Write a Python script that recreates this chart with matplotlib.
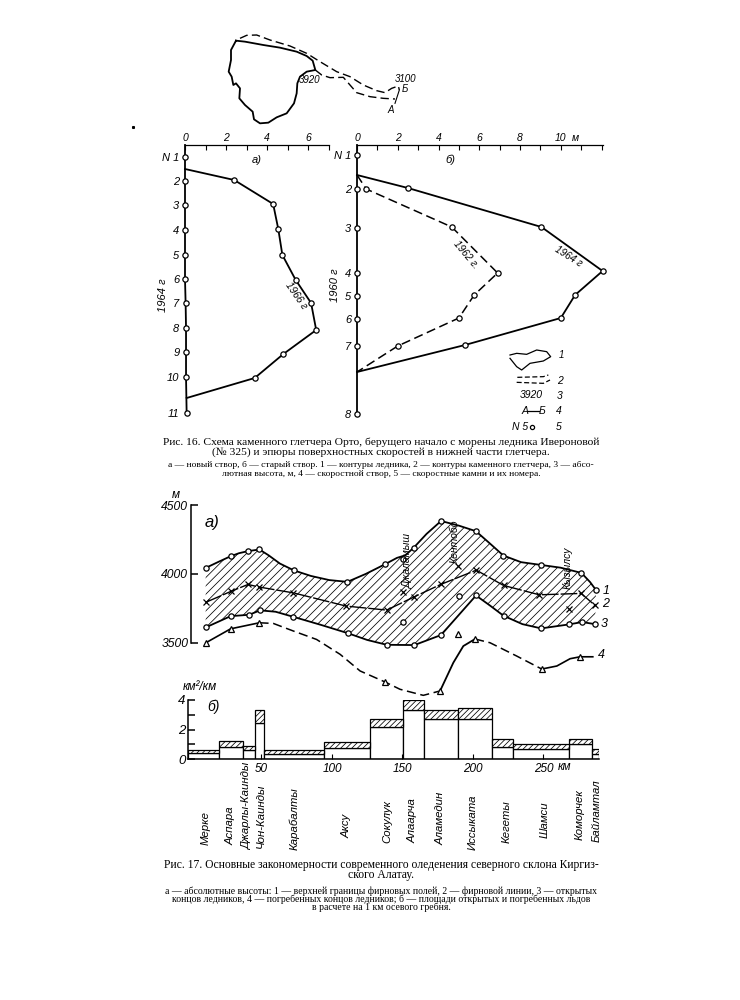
import matplotlib
matplotlib.use("Agg")
import matplotlib.pyplot as plt

plt.rcParams["font.family"] = ["Liberation Sans", "DejaVu Sans"]
plt.rcParams["hatch.linewidth"] = 0.55

# map of the glacier
glacier_x = [318, 345, 400, 450, 500, 530, 548, 556, 530, 510, 502, 500, 492, 470, 440, 415, 390, 372, 368, 345, 328, 330, 318, 310, 305, 296, 303, 303, 318]
glacier_y = [62, 65, 75, 83, 95, 108, 122, 150, 155, 170, 190, 220, 250, 280, 292, 308, 310, 298, 275, 255, 235, 205, 190, 195, 170, 155, 120, 90, 62]
rock_top_x = [330, 350, 380, 420, 480, 530, 570, 620, 660, 700, 740, 765, 785, 805, 808]
rock_top_y = [55, 46, 45, 60, 78, 100, 125, 155, 170, 195, 212, 218, 205, 198, 210]
rock_low_x = [556, 575, 600, 640, 660, 680, 720, 760, 795]
rock_low_y = [150, 165, 173, 172, 195, 218, 230, 235, 237]
profile_x = [808, 795]
profile_y = [210, 250]

# velocity profile a)
stones_a = ["N 1", "2", "3", "4", "5", "6", "7", "8", "9", "10", "11"]
stone_a_x = [0, 0, 0, 0, 0, 0, 0.03, 0.05, 0.05, 0.05, 0.08]
stone_a_y = [12, 36, 60, 85, 110, 134, 158, 183, 207, 232, 268]
v1966_x = [0, 2.4, 4.3, 4.55, 4.75, 5.4, 6.15, 6.4, 4.8, 3.4, 0.08]
v1966_y = [24, 35, 59, 84, 110, 135, 158, 185, 209, 233, 253]

# velocity profile b)
stones_b = ["N 1", "2", "3", "4", "5", "6", "7", "8"]
stone_b_y = [10, 44, 83, 128, 151, 174, 201, 269]
v1964_x = [0, 2.5, 9.05, 12.05, 10.7, 10.0, 5.3, 0]
v1964_y = [30, 43, 82, 126, 150, 173, 200, 227]
v1962_x = [0, 0.45, 4.65, 6.9, 5.75, 5.0, 2.0, 0]
v1962_y = [30, 44, 82, 128, 150, 173, 201, 227]

# altitudes along the ridge, km and m
top_km = [10.4, 19, 28.1, 34, 40.4, 48.5, 55, 63, 73, 85, 98, 110.9, 124, 137.6, 146, 152, 158, 167, 177.3, 190, 202, 212, 221.5, 234, 248, 262, 276.8, 283, 287.2]
top_alt = [4043, 4085, 4128, 4150, 4165, 4177, 4135, 4075, 4025, 3985, 3955, 3942, 4000, 4070, 4116, 4135, 4191, 4290, 4384, 4350, 4310, 4220, 4133, 4085, 4065, 4045, 4007, 3940, 3882]
top_mark_km = [10.4, 28.1, 40.4, 48.5, 73, 110.9, 137.6, 150, 158, 177.3, 202, 221.5, 248, 276.8, 287.2]
top_mark_alt = [4043, 4128, 4165, 4177, 4025, 3942, 4070, 4105, 4191, 4384, 4310, 4133, 4065, 4007, 3882]

firn_km = [10.4, 28.1, 40.4, 48.5, 72.6, 110, 138.8, 158.2, 177, 202.3, 221.6, 247, 276.6, 286.5]
firn_alt = [3793, 3872, 3923, 3904, 3862, 3766, 3737, 3833, 3923, 4027, 3916, 3848, 3858, 3771]
firn_off_km = [150.6, 189.6, 268.3]
firn_off_alt = [3867, 4056, 3742]

low_km = [10.4, 28.1, 41.3, 48.9, 60, 72.6, 92, 111, 125, 138.8, 158.4, 177.3, 202.1, 212, 221.6, 235, 248.3, 268, 277.3, 286.5]
low_alt = [3611, 3693, 3703, 3735, 3725, 3688, 3630, 3570, 3520, 3485, 3483, 3556, 3843, 3770, 3696, 3635, 3604, 3633, 3650, 3635]
low_mark_km = [10.4, 28.1, 41.3, 48.9, 72.6, 111, 138.8, 158.4, 177.3, 202.1, 221.6, 248.3, 268, 277.3, 286.5]
low_mark_alt = [3611, 3693, 3703, 3735, 3688, 3570, 3485, 3483, 3556, 3843, 3696, 3604, 3633, 3650, 3635]
low_off_km = [150.1, 190.3]
low_off_alt = [3650, 3836]

buried1_km = [10.6, 28.1, 48.5]
buried1_alt = [3500, 3601, 3645]
buried2_km = [48.5, 58.4, 72.6, 89, 105.7, 119.9, 137.6, 148.2, 164.7, 176.6]
buried2_alt = [3645, 3640, 3585, 3524, 3416, 3295, 3215, 3162, 3118, 3150]
buried3_km = [176.6, 186, 193.1, 201.4]
buried3_alt = [3150, 3355, 3476, 3527]
buried4_km = [201.4, 212, 231, 248.7]
buried4_alt = [3527, 3500, 3403, 3309]
buried5_km = [248.7, 259.4, 268.8, 275.9, 284.9]
buried5_alt = [3309, 3331, 3384, 3398, 3398]
buried_mark_km = [10.6, 28.1, 48.5, 137.6, 176.6, 189.1, 201.4, 248.7, 275.9]
buried_mark_alt = [3500, 3601, 3645, 3215, 3150, 3563, 3527, 3309, 3398]

# ice area per km of ridge
bar_edges = [-2, 19.6, 37.1, 45.4, 51.8, 94.6, 127, 150.1, 165.5, 189.6, 213.2, 228.1, 268.3, 284.4, 289.1]
bar_open = [0.39, 0.84, 0.6, 2.43, 0.32, 0.73, 2.14, 3.3, 2.7, 2.7, 0.8, 0.66, 1.02, 0.32]
bar_total = [0.6, 1.23, 0.88, 3.3, 0.6, 1.18, 2.7, 3.98, 3.3, 3.45, 1.36, 1.02, 1.36, 0.66]
km_ticks = [50, 100, 150, 200, 250]
km_labels = ["50", "100", "150", "200", "250"]
basins = ["Мерке", "Аспара", "Джарлы-Каинды", "Чон-Каинды", "Карабалты", "Аксу", "Сокулук", "Алаарча", "Аламедин", "Иссыката", "Кегеты", "Шамси", "Коморчек", "Байламтал"]

fig = plt.figure(figsize=(7.4, 10), dpi=100, facecolor="white")


def px_axes(x0, y0, x1, y1):
    ax = fig.add_axes([x0 / 740, 1 - y1 / 1000, (x1 - x0) / 740, (y1 - y0) / 1000])
    ax.patch.set_alpha(0)
    return ax


def label(x, y, s, size=8, rot=0, ha="center", va="center", **kw):
    kw.setdefault("style", "italic")
    fig.text(x / 740, 1 - y / 1000, s, fontsize=size, rotation=rot, ha=ha, va=va,
             rotation_mode="anchor", **kw)


def caption(y, s, size):
    label(381, y, s, size, style="normal", family="Liberation Serif")


dash = (0, (6, 3))
open_mark = dict(marker="o", ms=3.8, mfc="white", mec="black", mew=0.9, ls="none", clip_on=False, zorder=5)

# map
ax = px_axes(130, 20, 430, 140)
ax.set_xlim(0, 900)
ax.set_ylim(360, 0)
ax.axis("off")
ax.plot(glacier_x, glacier_y, color="black", lw=1.3)
ax.plot(rock_top_x, rock_top_y, color="black", lw=1, ls=dash)
ax.plot(rock_low_x, rock_low_y, color="black", lw=1, ls=dash)
ax.plot(profile_x, profile_y, color="black", lw=0.8)
ax.plot([8], [320], marker="s", ms=1.2, color="black")
label(310, 80, "3920", 7)
label(406, 79, "3100", 7)
label(405, 89, "Б", 7)
label(391, 110, "А", 7)

# a)
ax = px_axes(185, 145, 328.5, 425)
ax.set_xlim(0, 7)
ax.set_ylim(280, 0)
for s in ["left", "right", "bottom"]:
    ax.spines[s].set_visible(False)
ax.spines["top"].set_linewidth(0.9)
ax.xaxis.tick_top()
ax.set_xticks(range(8))
ax.set_xticklabels(["0", "", "2", "", "4", "", "6", ""], style="italic", fontsize=7.5)
ax.set_yticks(stone_a_y)
ax.set_yticklabels(stones_a, style="italic", fontsize=8)
ax.tick_params(axis="x", direction="in", length=3.5, width=0.8, pad=1.5)
ax.tick_params(axis="y", length=0, pad=4)
ax.plot([0] + stone_a_x, [0] + stone_a_y, color="black", lw=1.3, clip_on=False)
ax.plot(v1966_x, v1966_y, color="black", lw=1.3, clip_on=False)
ax.plot(stone_a_x, stone_a_y, **open_mark)
ax.plot(v1966_x[1:-1], v1966_y[1:-1], **open_mark)
label(257, 160, "а)", 8)
label(163, 295, "1964 г", 8, rot=90)
label(296, 296, "1966 г", 7.2, rot=-55)

# b)
ax = px_axes(357, 145, 603, 425)
ax.set_xlim(0, 12.07)
ax.set_ylim(280, 0)
for s in ["left", "right", "bottom"]:
    ax.spines[s].set_visible(False)
ax.spines["top"].set_linewidth(0.9)
ax.xaxis.tick_top()
ax.set_xticks(range(13))
ax.set_xticklabels(["0", "", "2", "", "4", "", "6", "", "8", "", "10", "", ""], style="italic", fontsize=7.5)
ax.set_yticks(stone_b_y)
ax.set_yticklabels(stones_b, style="italic", fontsize=8)
ax.tick_params(axis="x", direction="in", length=3.5, width=0.8, pad=1.5)
ax.tick_params(axis="y", length=0, pad=4)
ax.plot([0] * 9, [0] + stone_b_y, color="black", lw=1.3, clip_on=False)
ax.plot(v1964_x, v1964_y, color="black", lw=1.3, clip_on=False)
ax.plot(v1962_x, v1962_y, color="black", lw=1.1, ls=dash, clip_on=False)
ax.plot([0] * 8, stone_b_y, **open_mark)
ax.plot(v1964_x[1:-1], v1964_y[1:-1], **open_mark)
ax.plot(v1962_x[1:-1], v1962_y[1:-1], **open_mark)
label(450, 160, "б)", 8)
label(335, 285, "1960 г", 8, rot=90)
label(466, 255, "1962 г.", 7.2, rot=-50)
label(568, 256, "1964 г", 7.2, rot=-32)
label(575, 138, "м", 7.5)

# legend of Fig. 16
ax = px_axes(500, 340, 570, 430)
ax.set_xlim(510, 720)
ax.set_ylim(915, 645)
ax.axis("off")
ax.plot([540, 560, 590, 620, 650, 662, 640, 600, 575, 560, 540], [690, 685, 688, 675, 680, 695, 708, 715, 735, 725, 700], color="black", lw=0.9)
ax.plot([562, 640, 655], [757, 755, 750], color="black", lw=0.9, ls=(0, (4, 2)))
ax.plot([560, 640, 660], [772, 775, 765], color="black", lw=0.9, ls=(0, (4, 2)))
ax.plot([592, 628], [858, 858], color="black", lw=0.9)
ax.plot([605], [905], **dict(open_mark, ms=3))
label(561, 355, "1", 7)
label(560, 381, "2", 7.5)
label(531, 395, "3920", 7.5)
label(560, 396, "3", 7.5)
label(525, 411, "А", 7.5)
label(542, 411, "Б", 7.5)
label(559, 411, "4", 7.5)
label(520, 427, "N 5", 7.5)
label(559, 427, "5", 7.5)

# caption of Fig. 16
caption(442, "Рис. 16. Схема каменного глетчера Орто, берущего начало с морены ледника Ивероновой", 8.25)
caption(452, "(№ 325) и эпюры поверхностных скоростей в нижней части глетчера.", 8.25)
caption(465, "а — новый створ, б — старый створ. 1 — контуры ледника, 2 — контуры каменного глетчера, 3 — абсо-", 6.8)
caption(474, "лютная высота, м, 4 — скоростной створ, 5 — скоростные камни и их номера.", 6.8)

# altitudes
ax = px_axes(191, 505, 600, 711.6)
ax.set_xlim(0, 290)
ax.set_ylim(3000, 4500)
for s in ["top", "right", "bottom"]:
    ax.spines[s].set_visible(False)
ax.spines["left"].set_bounds(3500, 4500)
ax.spines["left"].set_linewidth(1.1)
ax.set_xticks([])
ax.set_yticks([3500, 4000, 4500])
ax.set_yticklabels(["3500", "4000", "4500"], style="italic", fontsize=8.7)
ax.tick_params(axis="y", direction="in", length=5, width=1.1, pad=2)
ax.fill(top_km + low_km[::-1], top_alt + low_alt[::-1], facecolor="none", edgecolor="black", hatch="////", lw=0)
ax.plot(top_km, top_alt, color="black", lw=1.3)
ax.plot(low_km, low_alt, color="black", lw=1.3)
ax.plot(firn_km, firn_alt, color="black", lw=1, ls=(0, (12, 1.5)))
ax.plot(firn_km, firn_alt, "x", color="black", ms=4, mew=0.9)
ax.plot(firn_off_km, firn_off_alt, "x", color="black", ms=4, mew=0.9)
ax.plot(top_mark_km, top_mark_alt, **open_mark)
ax.plot(low_mark_km, low_mark_alt, **open_mark)
ax.plot(low_off_km, low_off_alt, **open_mark)
ax.plot(buried1_km, buried1_alt, color="black", lw=1.2)
ax.plot(buried2_km, buried2_alt, color="black", lw=1.1, ls=dash)
ax.plot(buried3_km, buried3_alt, color="black", lw=1.3)
ax.plot(buried4_km, buried4_alt, color="black", lw=1.1, ls=dash)
ax.plot(buried5_km, buried5_alt, color="black", lw=1.2)
ax.plot(buried_mark_km, buried_mark_alt, **dict(open_mark, marker="^"))
label(176, 495, "м", 8.5)
label(212, 522, "а)", 12)
label(408, 561, "Джаламыш", 7.5, rot=90)
label(455, 541, "Кентобо", 7.5, rot=90)
label(568, 568, "Кызылсу", 7.5, rot=90)
label(606, 591, "1", 9)
label(606, 604, "2", 9)
label(604, 624, "3", 9)
label(601, 655, "4", 9)

# ice area bars
ax = px_axes(188.2, 700, 598.5, 759)
ax.set_xlim(-2, 289.1)
ax.set_ylim(0, 4)
for s in ["top", "right"]:
    ax.spines[s].set_visible(False)
ax.spines["left"].set_linewidth(1.1)
ax.spines["bottom"].set_linewidth(1.1)
lefts = bar_edges[:-1]
widths = [b - a for a, b in zip(bar_edges[:-1], bar_edges[1:])]
upper = [t - o for t, o in zip(bar_total, bar_open)]
ax.bar(lefts, bar_open, width=widths, align="edge", facecolor="white", edgecolor="black", lw=0.9)
ax.bar(lefts, upper, bottom=bar_open, width=widths, align="edge", facecolor="white", edgecolor="black", lw=0.9, hatch="//////")
ax.set_xticks(km_ticks)
ax.set_xticklabels(km_labels, style="italic", fontsize=8.5)
ax.set_yticks([0, 1, 2, 3, 4])
ax.set_yticklabels(["0", "", "2", "", "4"], style="italic", fontsize=9.5)
ax.tick_params(axis="x", direction="in", length=3.5, width=0.8, pad=3)
ax.tick_params(axis="y", direction="in", length=5, width=1.1, pad=2)
label(200, 687, "км²/км", 8.5)
label(213, 707, "б)", 10)
label(558, 767, "км", 8.5, ha="left")

# basin names
basin_x = [206, 231, 247, 261, 294, 347, 387, 413, 441, 473, 507, 545, 580, 597]
basin_y = [845, 845, 850, 848, 850, 838, 843, 843, 845, 850, 843, 838, 840, 842]
for name, bx, by in zip(basins, basin_x, basin_y):
    label(bx, by, name, 8.2, rot=90, ha="left", va="center")

# caption of Fig. 17
caption(865, "Рис. 17. Основные закономерности современного оледенения северного склона Киргиз-", 8.35)
caption(875, "ского Алатау.", 8.35)
caption(891, "а — абсолютные высоты: 1 — верхней границы фирновых полей, 2 — фирновой линии, 3 — открытых", 7)
caption(899, "концов ледников, 4 — погребенных концов ледников; б — площади открытых и погребенных льдов", 7)
caption(907, "в расчете на 1 км осевого гребня.", 7)

fig.savefig("out.png", dpi=100)
